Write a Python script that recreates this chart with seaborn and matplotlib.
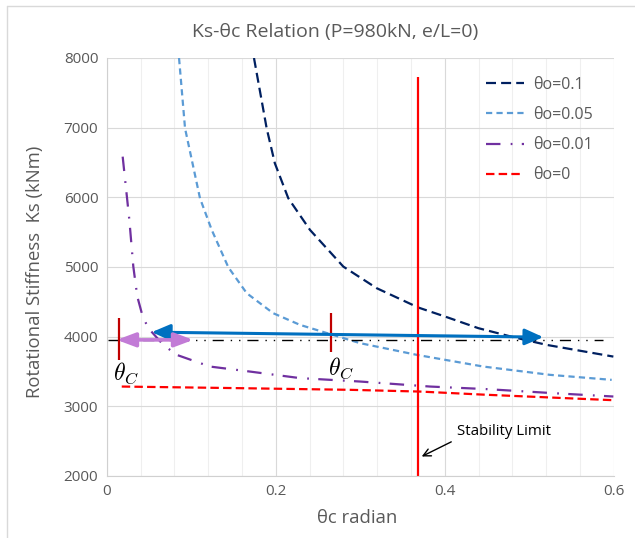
import matplotlib
matplotlib.use("Agg")
import matplotlib.pyplot as plt
from matplotlib.lines import Line2D
from matplotlib.ticker import MultipleLocator
import seaborn as sns

# ---------------- data ----------------
theta_01 = [0.1743, 0.1893, 0.199, 0.2149, 0.2406, 0.28, 0.3195, 0.3688, 0.4004, 0.4398, 0.4812, 0.5207, 0.5996]
ks_01 = [8000, 6991, 6489, 5987, 5532, 5006, 4696, 4418, 4289, 4122, 3993, 3882, 3714]

theta_005 = [0.0856, 0.0927, 0.1104, 0.1243, 0.1439, 0.1657, 0.197, 0.2288, 0.2998, 0.3669, 0.4457, 0.5246, 0.5976]
ks_005 = [8000, 6991, 5987, 5532, 4997, 4624, 4337, 4169, 3907, 3739, 3571, 3452, 3380]

theta_001 = [0.0189, 0.0268, 0.0315, 0.0362, 0.0426, 0.0493, 0.067, 0.0828, 0.1222, 0.1696, 0.2288, 0.2998, 0.3826, 0.4497, 0.5286, 0.5996]
ks_001 = [6584, 5676, 5006, 4576, 4289, 4122, 3882, 3739, 3571, 3499, 3405, 3356, 3284, 3247, 3189, 3141]

theta_0 = [0.0178, 0.15, 0.288, 0.3708, 0.4457, 0.5996]
ks_0 = [3284, 3262, 3237, 3212, 3168, 3088]

series_labels = ["θo=0.1", "θo=0.05", "θo=0.01", "θo=0"]

ref_theta = [0.002, 0.587]
ref_ks = [3945, 3945]

stab_theta = 0.3688
stab_low, stab_high = 2000, 7732

mark_theta = [0.0142, 0.266]
mark_low = [3667, 3786]
mark_high = [4265, 4346]

blue_start = (0.0533, 4065)
blue_end = (0.5167, 3993)
pink_start = (0.0118, 3954)
pink_end = (0.1025, 3954)

stab_tip = (0.3728, 2280)
stab_text_pos = (0.4146, 2639)

xtick_vals = [0, 0.2, 0.4, 0.6]
xtick_labels = ["0", "0.2", "0.4", "0.6"]
ytick_vals = [2000, 3000, 4000, 5000, 6000, 7000, 8000]
ytick_labels = ["2000", "3000", "4000", "5000", "6000", "7000", "8000"]

title = "Ks-θc Relation (P=980kN, e/L=0)"
xlabel = "θc radian"
ylabel = "Rotational Stiffness  Ks (kNm)"

# ---------------- style ----------------
sns.set_theme(style="white")
plt.rcParams["font.family"] = ["Open Sans", "DejaVu Sans"]
plt.rcParams["mathtext.fontset"] = "cm"
gray = "#595959"

W, H = 635, 538
fig = plt.figure(figsize=(W / 100, H / 100), dpi=100)
ax = fig.add_axes([106.7 / W, 1 - 476 / H, (613.7 - 106.7) / W, (476 - 58) / H])

styles = [
    (theta_01, ks_01, "#002060", (0, (4.5, 2.3)), 1.6),
    (theta_005, ks_005, "#5B9BD5", (0, (2.8, 1.9)), 1.6),
    (theta_001, ks_001, "#7030A0", (0, (6.5, 4.6, 0.8, 4.2)), 1.6),
    (theta_0, ks_0, "#FF0000", (0, (3.8, 1.9)), 1.6),
]
for (th, ks, col, ls, lw), lab in zip(styles, series_labels):
    sns.lineplot(x=th, y=ks, ax=ax, color=col, linestyle=ls, linewidth=lw, label=lab)

sns.lineplot(x=ref_theta, y=ref_ks, ax=ax, color="black", linewidth=1.0,
             linestyle=(0, (8, 5, 1, 5, 1, 5)), label="_ref")

ax.vlines(stab_theta, stab_low, stab_high, color="#FF0000", linewidth=1.6)
ax.vlines(mark_theta, mark_low, mark_high, color="#C00000", linewidth=1.6)

ax.annotate("", xy=blue_end, xytext=blue_start,
            arrowprops=dict(arrowstyle="<|-|>,head_length=0.8,head_width=0.35",
                            color="#0070C0", lw=2.2, mutation_scale=14, shrinkA=0, shrinkB=0))
ax.annotate("", xy=pink_end, xytext=pink_start,
            arrowprops=dict(arrowstyle="<|-|>,head_length=0.8,head_width=0.3",
                            color="#C27BD6", lw=2.6, mutation_scale=14, shrinkA=0, shrinkB=0))

ax.text(0.0075, 3380, r"$\theta_C$", fontsize=17, color="black", ha="left", va="baseline")
ax.text(0.262, 3450, r"$\theta_C$", fontsize=17, color="black", ha="left", va="baseline")

ax.annotate("Stability Limit", xy=stab_tip, xytext=stab_text_pos, fontsize=10.8, color="black",
            ha="left", va="center",
            arrowprops=dict(arrowstyle="->,head_length=0.5,head_width=0.25", color="black",
                            lw=1, relpos=(0, 0), shrinkA=2, shrinkB=0))

ax.set_xlim(0, 0.6)
ax.set_ylim(2000, 8000)
ax.set_xticks(xtick_vals, labels=xtick_labels)
ax.set_yticks(ytick_vals, labels=ytick_labels)
ax.xaxis.set_minor_locator(MultipleLocator(0.04))
ax.set_axisbelow(True)
ax.grid(which="major", color="#D9D9D9", linewidth=0.8)
ax.grid(which="minor", axis="x", color="#EFEFEF", linewidth=0.8)
ax.tick_params(axis="both", which="both", length=0, colors=gray, labelsize=11)
ax.tick_params(axis="x", pad=6)
ax.tick_params(axis="y", pad=6)
for s in ["top", "right"]:
    ax.spines[s].set_visible(False)
for s in ["left", "bottom"]:
    ax.spines[s].set_color("#D0D0D0")
    ax.spines[s].set_linewidth(0.8)
ax.set_xlabel("")
ax.set_ylabel("")

leg = ax.legend(loc="upper left", bbox_to_anchor=(486 / W, 1 - 77 / H), bbox_transform=fig.transFigure,
                frameon=False, fontsize=11.5, handlelength=2.4, handletextpad=0.55,
                labelspacing=0.88, borderpad=0, borderaxespad=0)
for t in leg.get_texts():
    t.set_color(gray)

fig.text(335 / W, 1 - 32 / H, title, ha="center", va="center", fontsize=14, color=gray)
fig.text(357 / W, 1 - 518 / H, xlabel, ha="center", va="center", fontsize=13.3, color=gray)
fig.text(35 / W, 1 - 272 / H, ylabel, ha="center", va="center", rotation=90, fontsize=13.3, color=gray)

fig.add_artist(Line2D([7 / W, 1], [1 - 6 / H, 1 - 6 / H], transform=fig.transFigure, color="#D9D9D9", lw=1))
fig.add_artist(Line2D([7 / W, 7 / W], [0, 1 - 6 / H], transform=fig.transFigure, color="#D9D9D9", lw=1))

fig.savefig("out.png", dpi=100)
